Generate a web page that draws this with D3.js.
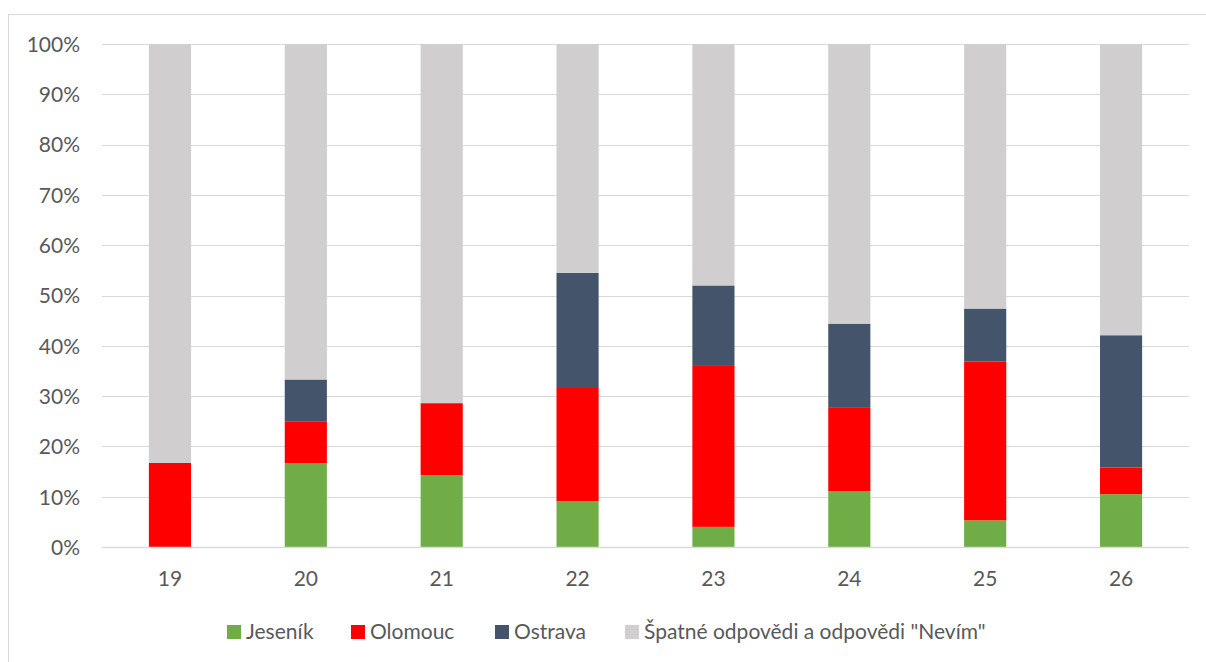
<!DOCTYPE html>
<html><head><meta charset="utf-8">
<script src="https://cdn.jsdelivr.net/npm/d3@7"></script>
<style>body{margin:0;background:#fff;} svg{display:block;}</style>
</head><body>
<svg id="c" width="1206" height="662"></svg>
<script>
const categories = ["19","20","21","22","23","24","25","26"];
const jesenik = [0, 16.7, 14.3, 9.1, 4.0, 11.1, 5.3, 10.5];
const olomouc = [16.7, 8.3, 14.3, 22.7, 32.0, 16.7, 31.6, 5.3];
const ostrava = [0, 8.3, 0, 22.7, 16.0, 16.6, 10.5, 26.3];
const spatne = categories.map((c,i)=> +(100 - jesenik[i] - olomouc[i] - ostrava[i]).toFixed(1));
const yTicks = [0,10,20,30,40,50,60,70,80,90,100];
const seriesNames = ["Jeseník","Olomouc","Ostrava","Špatné odpovědi a odpovědi \"Nevím\""];
const colors = ["#70AD47","#FF0000","#44546A","#D0CECE"];

const svg = d3.select("#c");
const font = "Lato, 'Open Sans', sans-serif";
const fs = "21px";
svg.append("rect").attr("x",8.5).attr("y",14.5).attr("width",1210).attr("height",660)
  .attr("fill","#fff").attr("stroke","#d9d9d9").attr("stroke-width",1);

const m = {l:102, r:1189, t:44, b:547};
const x = d3.scaleBand().domain(categories).range([m.l,m.r]).paddingInner(0.69).paddingOuter(0.345);
const y = d3.scaleLinear().domain([0,100]).range([m.b,m.t]);

const g = svg.append("g");
g.selectAll("line.grid").data(yTicks).join("line")
  .attr("x1",m.l).attr("x2",m.r).attr("y1",d=>Math.round(y(d))+0.5).attr("y2",d=>Math.round(y(d))+0.5)
  .attr("stroke","#d9d9d9").attr("stroke-width",1);

const table = categories.map((c,i)=>({cat:c, "Jeseník":jesenik[i], "Olomouc":olomouc[i], "Ostrava":ostrava[i], [seriesNames[3]]:spatne[i]}));
const stack = d3.stack().keys(seriesNames)(table);
stack.forEach((s,si)=>{
  g.append("g").attr("fill",colors[si]).selectAll("rect").data(s).join("rect")
    .attr("x",d=>x(d.data.cat)).attr("width",x.bandwidth())
    .attr("y",d=>y(d[1])).attr("height",d=>y(d[0])-y(d[1]));
});
g.append("line").attr("x1",m.l).attr("x2",m.r).attr("y1",m.b+0.5).attr("y2",m.b+0.5).attr("stroke","#d9d9d9").attr("stroke-width",1.5);

const yAxis = d3.axisLeft(y).tickValues(yTicks).tickFormat(d=>d+"%").tickSize(0).tickPadding(0);
const ya = svg.append("g").attr("transform","translate(80,0)").call(yAxis);
ya.select(".domain").remove();
ya.selectAll("text").attr("font-family",font).attr("font-size",fs).attr("fill","#595959").attr("dy","0.35em");

const xAxis = d3.axisBottom(x).tickSize(0).tickPadding(0);
const xa = svg.append("g").attr("transform",`translate(0,${m.b+32})`).call(xAxis);
xa.select(".domain").remove();
xa.selectAll("text").attr("font-family",font).attr("font-size",fs).attr("fill","#595959").attr("dy","0.35em").attr("y",0);

const legX = [227,351,495,625];
const lg = svg.append("g");
seriesNames.forEach((n,i)=>{
  lg.append("rect").attr("x",legX[i]).attr("y",625).attr("width",14).attr("height",14).attr("fill",colors[i]);
  lg.append("text").attr("x",legX[i]+19).attr("y",632).attr("dy","0.35em")
    .attr("font-family",font).attr("font-size",fs).attr("fill","#595959").text(n);
});
</script>
</body></html>
